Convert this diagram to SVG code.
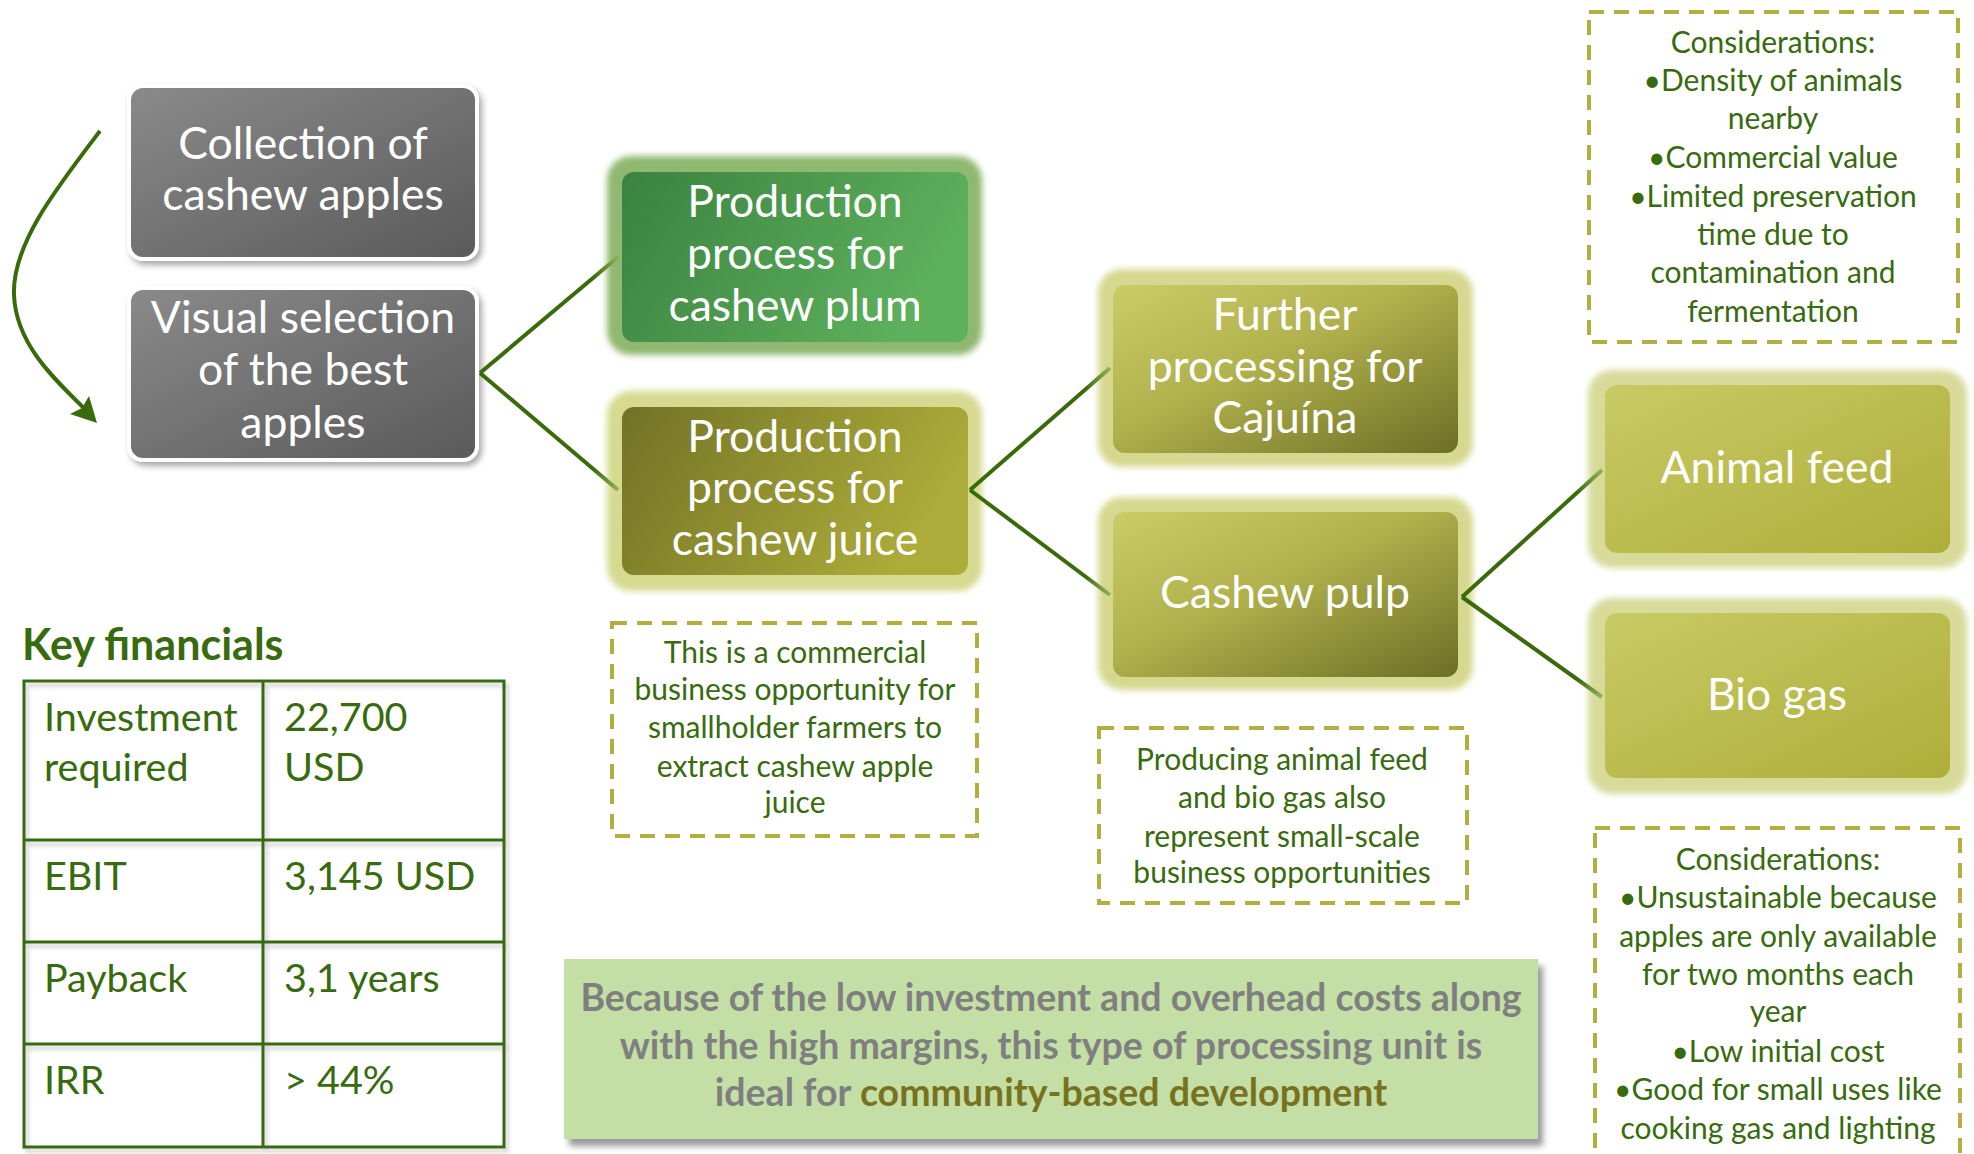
<svg xmlns="http://www.w3.org/2000/svg" width="1974" height="1154" viewBox="0 0 1974 1154">
<defs>
<style>
.nt{font-family:Lato,"Open Sans",sans-serif;font-size:44.5px;fill:#ffffff;text-anchor:middle}
.ct{font-family:Lato,"Open Sans",sans-serif;font-size:30px;fill:#386b0e;text-anchor:middle}
.tt{font-family:Lato,"Open Sans",sans-serif;font-size:39.5px;fill:#386b0e}
.dash{fill:none;stroke:#b2af40;stroke-width:4;stroke-dasharray:15 10}
.conn{fill:none;stroke-width:4}
.bt{font-family:Lato,"Open Sans",sans-serif;font-weight:bold;font-size:37.5px;fill:#7f7f7f;text-anchor:middle}
</style>
<linearGradient id="gGray" x1="0" y1="0" x2="1" y2="1"><stop offset="0" stop-color="#8a8a8a"/><stop offset="1" stop-color="#5a5a5a"/></linearGradient>
<linearGradient id="gPlum" x1="0" y1="0" x2="1" y2="0.3"><stop offset="0" stop-color="#3b8240"/><stop offset="1" stop-color="#5db05c"/></linearGradient>
<linearGradient id="gJuice" x1="0" y1="0" x2="1" y2="0.3"><stop offset="0" stop-color="#727226"/><stop offset="1" stop-color="#acac3a"/></linearGradient>
<linearGradient id="gCaj" x1="0" y1="0" x2="1" y2="1"><stop offset="0" stop-color="#cbcc68"/><stop offset="0.45" stop-color="#b0b04c"/><stop offset="1" stop-color="#6c6f25"/></linearGradient>
<linearGradient id="gFeed" x1="0" y1="0" x2="1" y2="1"><stop offset="0" stop-color="#c8ca64"/><stop offset="1" stop-color="#aeae3a"/></linearGradient>
<linearGradient id="c1" gradientUnits="userSpaceOnUse" x1="480" y1="373" x2="618" y2="257"><stop offset="0.82" stop-color="#3a6b0a"/><stop offset="1" stop-color="#93b257"/></linearGradient>
<linearGradient id="c2" gradientUnits="userSpaceOnUse" x1="480" y1="373" x2="618" y2="490"><stop offset="0.82" stop-color="#3a6b0a"/><stop offset="1" stop-color="#93b257"/></linearGradient>
<linearGradient id="c3" gradientUnits="userSpaceOnUse" x1="970" y1="490" x2="1110" y2="368"><stop offset="0.82" stop-color="#3a6b0a"/><stop offset="1" stop-color="#93b257"/></linearGradient>
<linearGradient id="c4" gradientUnits="userSpaceOnUse" x1="970" y1="490" x2="1110" y2="595"><stop offset="0.82" stop-color="#3a6b0a"/><stop offset="1" stop-color="#93b257"/></linearGradient>
<linearGradient id="c5" gradientUnits="userSpaceOnUse" x1="1462" y1="597" x2="1602" y2="470"><stop offset="0.82" stop-color="#3a6b0a"/><stop offset="1" stop-color="#93b257"/></linearGradient>
<linearGradient id="c6" gradientUnits="userSpaceOnUse" x1="1462" y1="597" x2="1602" y2="697"><stop offset="0.82" stop-color="#3a6b0a"/><stop offset="1" stop-color="#93b257"/></linearGradient>
<filter id="shadow" x="-10%" y="-10%" width="125%" height="130%"><feDropShadow dx="3" dy="4" stdDeviation="3" flood-color="#000" flood-opacity="0.35"/></filter>
<filter id="blur" x="-10%" y="-10%" width="120%" height="120%"><feGaussianBlur stdDeviation="3"/></filter>
<filter id="tshadow" x="-5%" y="-5%" width="110%" height="110%"><feDropShadow dx="3" dy="4" stdDeviation="2" flood-color="#000" flood-opacity="0.2"/></filter>
<filter id="bshadow" x="-5%" y="-10%" width="110%" height="125%"><feDropShadow dx="5" dy="7" stdDeviation="3" flood-color="#000" flood-opacity="0.4"/></filter>
</defs>

<g id="node-collection">
<rect x="129" y="86" width="348" height="173" rx="14" fill="url(#gGray)" stroke="#ffffff" stroke-width="4" filter="url(#shadow)"/>
<text class="nt" x="303" y="159">Collection of</text>
<text class="nt" x="303" y="210">cashew apples</text>
</g>

<g id="node-selection">
<rect x="129" y="288" width="348" height="172" rx="14" fill="url(#gGray)" stroke="#ffffff" stroke-width="4" filter="url(#shadow)"/>
<text class="nt" x="303" y="333">Visual selection</text>
<text class="nt" x="303" y="385">of the best</text>
<text class="nt" x="303" y="438">apples</text>
</g>

<g id="node-plum">
<rect x="607" y="156" width="375" height="199" rx="24" fill="#8fb870" filter="url(#blur)"/>
<rect x="622" y="172" width="346" height="170" rx="12" fill="url(#gPlum)"/>
<text class="nt" x="795" y="217">Production</text>
<text class="nt" x="795" y="269">process for</text>
<text class="nt" x="795" y="321">cashew plum</text>
</g>

<g id="node-juice">
<rect x="607" y="391" width="375" height="200" rx="24" fill="#d6d98f" filter="url(#blur)"/>
<rect x="622" y="407" width="346" height="168" rx="12" fill="url(#gJuice)"/>
<text class="nt" x="795" y="452">Production</text>
<text class="nt" x="795" y="503">process for</text>
<text class="nt" x="795" y="555">cashew juice</text>
</g>

<g id="node-cajuina">
<rect x="1098" y="269" width="375" height="198" rx="24" fill="#d6d88f" filter="url(#blur)"/>
<rect x="1113" y="285" width="345" height="168" rx="12" fill="url(#gCaj)"/>
<text class="nt" x="1285" y="330">Further</text>
<text class="nt" x="1285" y="382">processing for</text>
<text class="nt" x="1285" y="433">Cajuína</text>
</g>

<g id="node-pulp">
<rect x="1098" y="497" width="375" height="193" rx="24" fill="#d6d88f" filter="url(#blur)"/>
<rect x="1113" y="512" width="345" height="165" rx="12" fill="url(#gCaj)"/>
<text class="nt" x="1285" y="608">Cashew pulp</text>
</g>

<g id="node-feed">
<rect x="1588" y="370" width="379" height="198" rx="24" fill="#d8da9a" filter="url(#blur)"/>
<rect x="1605" y="385" width="345" height="168" rx="12" fill="url(#gFeed)"/>
<text class="nt" x="1777" y="483">Animal feed</text>
</g>

<g id="node-biogas">
<rect x="1588" y="598" width="379" height="196" rx="24" fill="#d8da9a" filter="url(#blur)"/>
<rect x="1605" y="613" width="345" height="165" rx="12" fill="url(#gFeed)"/>
<text class="nt" x="1777" y="710">Bio gas</text>
</g>

<g id="connectors">
<path class="conn" stroke="#3a6b0a" d="M100,131 C55,190 12,245 14,295 C16,345 55,380 92,416"/>
<path d="M97,423 L70,414 L82,408 L89,396 Z" fill="#3a6b0a"/>
<line class="conn" stroke="url(#c1)" x1="480" y1="373" x2="618" y2="257"/>
<line class="conn" stroke="url(#c2)" x1="480" y1="373" x2="618" y2="490"/>
<line class="conn" stroke="url(#c3)" x1="970" y1="490" x2="1110" y2="368"/>
<line class="conn" stroke="url(#c4)" x1="970" y1="490" x2="1110" y2="595"/>
<line class="conn" stroke="url(#c5)" x1="1462" y1="597" x2="1602" y2="470"/>
<line class="conn" stroke="url(#c6)" x1="1462" y1="597" x2="1602" y2="697"/>
</g>

<g id="note-top">
<rect class="dash" x="1589" y="12" width="369" height="330"/>
<text class="ct" x="1773" y="53">Considerations:</text>
<text class="ct" x="1773" y="91">•Density of animals</text>
<text class="ct" x="1773" y="129">nearby</text>
<text class="ct" x="1773" y="168">•Commercial value</text>
<text class="ct" x="1773" y="207">•Limited preservation</text>
<text class="ct" x="1773" y="245">time due to</text>
<text class="ct" x="1773" y="283">contamination and</text>
<text class="ct" x="1773" y="322">fermentation</text>
</g>

<g id="note-bottom">
<rect class="dash" x="1595" y="828" width="365" height="345"/>
<text class="ct" x="1778" y="870">Considerations:</text>
<text class="ct" x="1778" y="908">•Unsustainable because</text>
<text class="ct" x="1778" y="947">apples are only available</text>
<text class="ct" x="1778" y="985">for two months each</text>
<text class="ct" x="1778" y="1022">year</text>
<text class="ct" x="1778" y="1062">•Low initial cost</text>
<text class="ct" x="1778" y="1100">•Good for small uses like</text>
<text class="ct" x="1778" y="1139">cooking gas and lighting</text>
</g>

<g id="note-juice">
<rect class="dash" x="612" y="623" width="365" height="213"/>
<text class="ct" x="795" y="663">This is a commercial</text>
<text class="ct" x="795" y="700">business opportunity for</text>
<text class="ct" x="795" y="738">smallholder farmers to</text>
<text class="ct" x="795" y="777">extract cashew apple</text>
<text class="ct" x="795" y="813">juice</text>
</g>

<g id="note-pulp">
<rect class="dash" x="1099" y="728" width="368" height="175"/>
<text class="ct" x="1282" y="770">Producing animal feed</text>
<text class="ct" x="1282" y="808">and bio gas also</text>
<text class="ct" x="1282" y="847">represent small-scale</text>
<text class="ct" x="1282" y="883">business opportunities</text>
</g>

<g id="key-financials">
<text x="22" y="660" style="font-family:Lato,'Open Sans',sans-serif;font-weight:bold;font-size:43px;fill:#386b0e">Key financials</text>
<g fill="none" stroke="#386b0e" stroke-width="3" filter="url(#tshadow)">
<rect x="24" y="681" width="480" height="466"/>
<line x1="263" y1="681" x2="263" y2="1147"/>
<line x1="24" y1="840" x2="504" y2="840"/>
<line x1="24" y1="942" x2="504" y2="942"/>
<line x1="24" y1="1044" x2="504" y2="1044"/>
</g>
<text class="tt" x="44" y="731">Investment</text>
<text class="tt" x="44" y="781">required</text>
<text class="tt" x="284" y="731">22,700</text>
<text class="tt" x="284" y="781">USD</text>
<text class="tt" x="44" y="890">EBIT</text>
<text class="tt" x="284" y="890">3,145 USD</text>
<text class="tt" x="44" y="992">Payback</text>
<text class="tt" x="284" y="992">3,1 years</text>
<text class="tt" x="44" y="1094">IRR</text>
<text class="tt" x="284" y="1094">&gt; 44%</text>
</g>

<g id="summary">
<rect x="564" y="959" width="974" height="180" fill="#c4dfa6" filter="url(#bshadow)"/>
<text class="bt" x="1051" y="1011">Because of the low investment and overhead costs along</text>
<text class="bt" x="1051" y="1059">with the high margins, this type of processing unit is</text>
<text class="bt" x="1051" y="1106">ideal for <tspan fill="#787220">community-based development</tspan></text>
</g>
</svg>
